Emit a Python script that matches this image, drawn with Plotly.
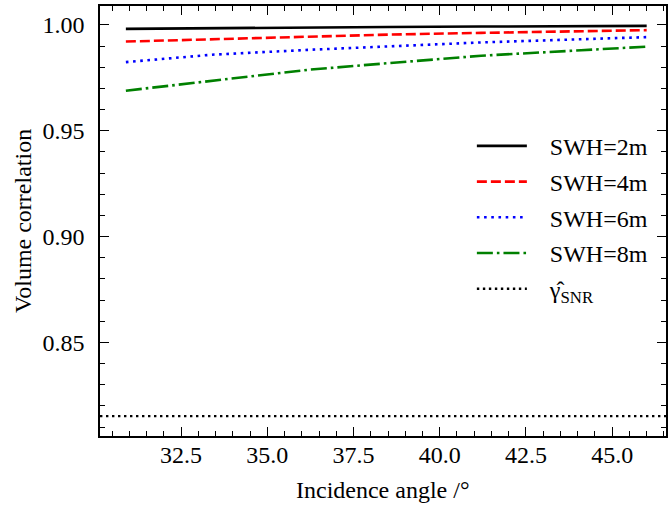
import plotly.graph_objects as go

# Data
angles = [30.9, 33.4, 36.2, 38.5, 41.2, 44.1, 46.0]
swh2 = [0.9981, 0.9985, 0.9988, 0.9990, 0.9992, 0.9994, 0.9995]
swh4 = [0.9921, 0.9932, 0.9946, 0.9954, 0.9962, 0.9970, 0.9975]
swh6 = [0.9824, 0.9859, 0.9882, 0.9899, 0.9917, 0.9932, 0.9942]
swh8 = [0.9689, 0.9737, 0.9788, 0.9819, 0.9854, 0.9880, 0.9897]
gamma_snr = 0.8152
x_range = [30.15, 46.56]
y_range = [0.8058, 1.0089]
series_names = ["SWH=2m", "SWH=4m", "SWH=6m", "SWH=8m"]
snr_name = "γ̂<sub>SNR</sub>"
x_title = "Incidence angle /°"
y_title = "Volume correlation"

FONT = "Liberation Serif"
PAD = "\u00a0\u00a0\u00a0"

fig = go.Figure()
styles = [
    dict(color="black", width=2.6, dash="solid"),
    dict(color="#ff0000", width=2.6, dash="10px,4px"),
    dict(color="#0000ff", width=2.6, dash="2.6px,4.6px"),
    dict(color="#008000", width=2.6, dash="16px,4px,2.6px,4px"),
]
for i, (name, ys) in enumerate(zip(series_names, [swh2, swh4, swh6, swh8])):
    fig.add_trace(go.Scatter(x=angles, y=ys, mode="lines", name=PAD + name,
                             line=styles[i], legendgroup=f"g{i}"))

fig.add_trace(go.Scatter(x=x_range, y=[gamma_snr, gamma_snr], mode="lines",
                         name=PAD + snr_name, legendgroup="g5",
                         line=dict(color="black", width=2.4, dash="2.4px,3.6px")))

axis_common = dict(
    showgrid=False, zeroline=False, showline=True, linecolor="black", linewidth=1.6,
    mirror="allticks", ticks="inside", ticklen=9, tickwidth=1.3, tickcolor="black",
    tickfont=dict(family=FONT, size=24, color="black"), automargin=False,
)
fig.update_xaxes(range=x_range, tick0=0, dtick=2.5, tickformat=".1f",
                 minor=dict(ticks="inside", dtick=0.5, ticklen=5, tickwidth=1.1, tickcolor="black"),
                 ticklabelstandoff=-4,
                 **axis_common)
fig.update_yaxes(range=y_range, tick0=0, dtick=0.05, tickformat=".2f",
                 minor=dict(ticks="inside", dtick=0.01, ticklen=5, tickwidth=1.1, tickcolor="black"),
                 ticklabelstandoff=9,
                 **axis_common)

fig.add_annotation(text=x_title, xref="paper", yref="paper", x=0.5, y=-0.1256,
                   xanchor="center", yanchor="middle", showarrow=False,
                   font=dict(family=FONT, size=24, color="black"))
fig.add_annotation(text=y_title, xref="paper", yref="paper", x=-0.136, y=0.5,
                   xanchor="center", yanchor="middle", textangle=-90, showarrow=False,
                   font=dict(family=FONT, size=24, color="black"))

fig.update_layout(
    width=668, height=506,
    margin=dict(l=100, r=2, t=6, b=70, autoexpand=False),
    paper_bgcolor="white", plot_bgcolor="white",
    font=dict(family=FONT, size=24, color="black"),
    showlegend=True,
    legend=dict(x=0.657, y=0.726, xanchor="left", yanchor="top",
                bgcolor="rgba(0,0,0,0)", borderwidth=0,
                font=dict(family=FONT, size=24, color="black"),
                itemwidth=50, tracegroupgap=1.5),
)

fig.write_html("out.html", config={"displayModeBar": False},
               post_script="document.body.style.margin='0';document.body.style.padding='0';")
